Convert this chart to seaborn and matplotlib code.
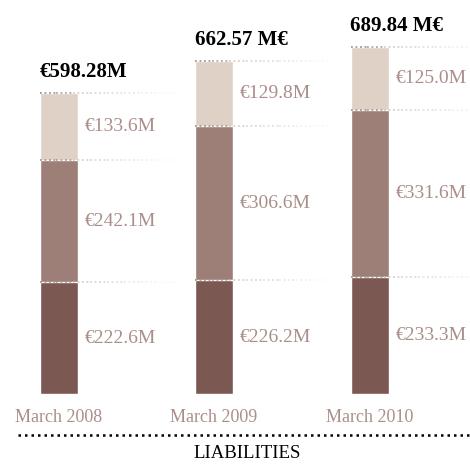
import numpy as np
import pandas as pd
import matplotlib.pyplot as plt
import seaborn as sns
from matplotlib.lines import Line2D

periods = ["March 2008", "March 2009", "March 2010"]
bottom_vals = [222.6, 226.2, 233.3]
middle_vals = [242.1, 306.6, 331.6]
top_vals = [133.6, 129.8, 125.0]
totals = ["€598.28M", "662.57 M€", "689.84 M€"]
seg_labels = [["€222.6M", "€242.1M", "€133.6M"],
              ["€226.2M", "€306.6M", "€129.8M"],
              ["€233.3M", "€331.6M", "€125.0M"]]
title = "LIABILITIES"

DARK = "#7b5851"
MID = "#9d7f77"
LIGHT = "#dfd1c6"
LABEL = "#a98f8a"
DOTS = "#c9bab3"

sns.set_style("white")
plt.rcParams["font.family"] = ["Liberation Serif", "DejaVu Serif"]

df = pd.DataFrame({"period": periods, "b": bottom_vals, "m": middle_vals, "t": top_vals})
df["c1"] = df["b"]
df["c2"] = df["b"] + df["m"]
df["c3"] = df["c2"] + df["t"]

W, H = 470, 465
fig = plt.figure(figsize=(4.7, 4.65), dpi=100)
ax = fig.add_axes([0, 71 / H, 1, 394 / H])

step = 155.5  # px per category
bw = 38 / step
for col, c in [("c3", LIGHT), ("c2", MID), ("c1", DARK)]:
    sns.barplot(data=df, x="period", y=col, color=c, width=bw, saturation=1,
                errorbar=None, ax=ax, order=periods)

ax.set_xlim(-58.5 / step, (W - 58.5) / step)
ax.set_ylim(0, 394 / 0.503)
sns.despine(ax=ax, left=True, bottom=True)
ax.set_yticks([])
ax.set_xlabel("")
ax.set_ylabel("")
ax.tick_params(axis="x", length=0, pad=11, labelsize=13, labelcolor=LABEL)

# fading dotted guides at segment tops
span = 135 / step
n_pieces = 8
for i in range(len(periods)):
    left = i - bw / 2
    for y in [df["c1"][i], df["c2"][i], df["c3"][i]]:
        for k in range(n_pieces):
            x0 = left + span * k / n_pieces
            x1 = left + span * (k + 1) / n_pieces
            a = 0.95 - 0.85 * k / (n_pieces - 1)
            ax.plot([x0, x1], [y, y], linestyle=(0, (1, 1.5)), color=DOTS if k > 1 else "#a0928c",
                    lw=1.3, alpha=a, clip_on=False)
    # segment labels
    lows = [0, df["c1"][i], df["c2"][i]]
    highs = [df["c1"][i], df["c2"][i], df["c3"][i]]
    for j in range(3):
        ax.text(i + bw / 2 + 7 / step, (lows[j] + highs[j]) / 2, seg_labels[i][j],
                ha="left", va="center", fontsize=14, color=LABEL)
    # totals
    ax.annotate(totals[i], (left, df["c3"][i]), xytext=(0, 16 * 0.72),
                textcoords="offset points", ha="left", va="baseline",
                fontsize=15, fontweight="bold", color="black")

fig.add_artist(Line2D([18 / W, 1], [1 - 435 / H, 1 - 435 / H], transform=fig.transFigure,
                      color="black", lw=1.8, linestyle=(0, (1, 1.6))))
fig.text(247 / W, 1 - 453 / H, title, ha="center", va="center", fontsize=13.5, color="black")

fig.savefig("out.png", dpi=100)
